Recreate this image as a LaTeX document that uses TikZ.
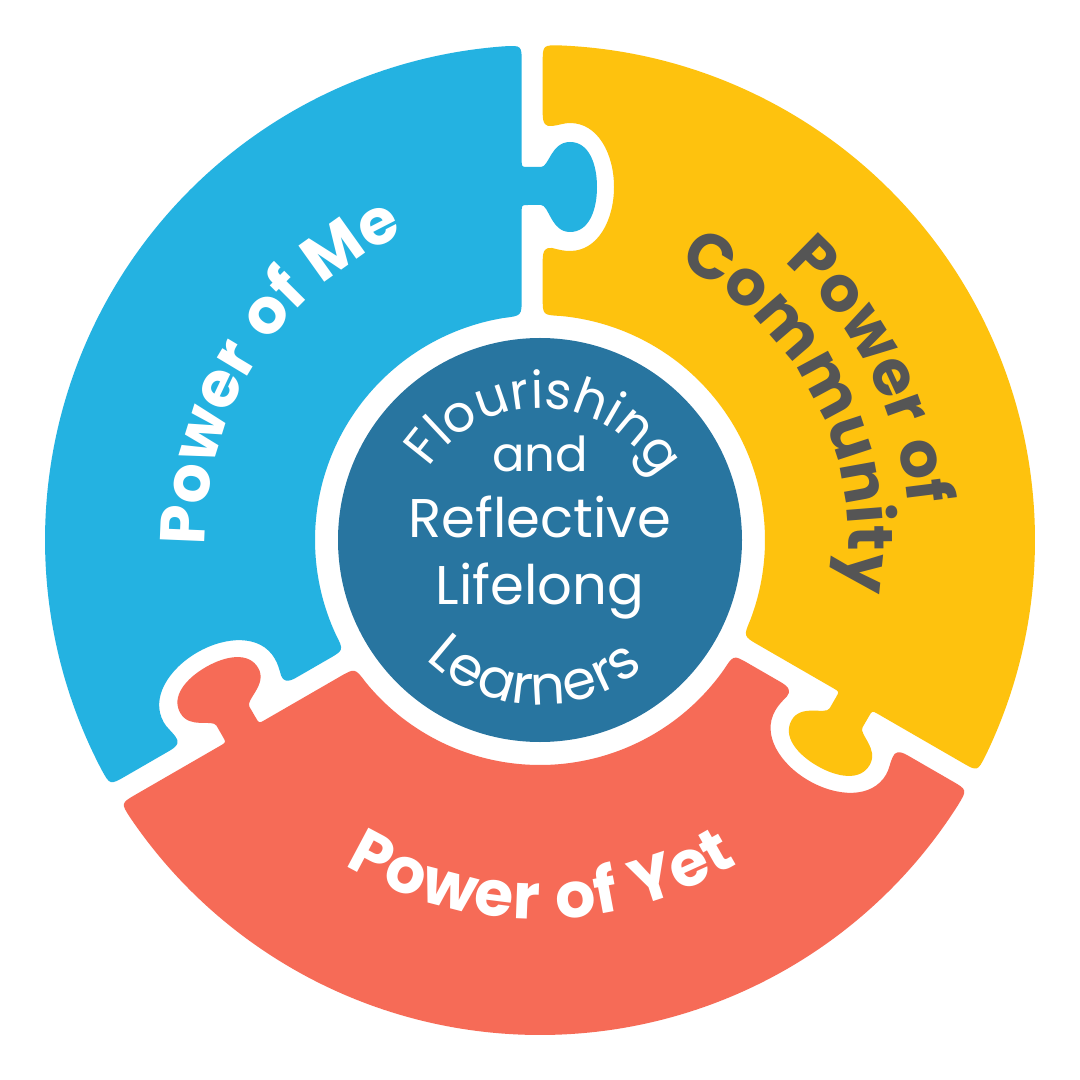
\documentclass[tikz,border=0pt]{standalone}
\usepackage{fontspec}
\setmainfont{Poppins}
\usepackage{tikz}
\usetikzlibrary{decorations.text}
\definecolor{WheelBlue}{HTML}{24B2E1}
\definecolor{WheelGold}{HTML}{FEC20E}
\definecolor{WheelCoral}{HTML}{F66B57}
\definecolor{WheelNavy}{HTML}{2875A0}
\definecolor{WheelInk}{HTML}{555555}
\newcommand\bandfont{\bfseries\fontsize{18}{20}\selectfont}
\newcommand\hubfont{\fontsize{15.5}{17}\selectfont}
\newcommand\gap{{\kern0.25em}}
% one puzzle piece, knob on its clockwise edge, socket on the other
\newcommand\piecepath{
  (94.2:4.95) .. controls (-0.183,4.9466) .. (-0.183,4.77)
  -- (-0.183,3.80) .. controls (-0.183,3.73) .. (-0.12,3.73)
  -- (0.01,3.73) .. controls (0.09,3.73) and (0.11,3.98) .. (0.30,3.98)
  .. controls (0.49,3.98) and (0.57,3.76) .. (0.57,3.53)
  .. controls (0.57,3.30) and (0.49,3.08) .. (0.30,3.08)
  .. controls (0.11,3.08) and (0.09,3.35) .. (0.01,3.35)
  -- (-0.12,3.35) .. controls (-0.183,3.35) .. (-0.183,3.28)
  -- (-0.183,2.42) .. controls (-0.183,2.2425) .. (99.25:2.25)
  arc[start angle=99.25, end angle=204.73, radius=2.25]
  .. controls ([rotate=120]0.027,2.2498) .. ([rotate=120]0.027,2.42)
  -- ([rotate=120]0.027,2.80)
  .. controls ([rotate=120]0.027,2.90) and ([rotate=120]0.06,2.93) .. ([rotate=120]0.12,2.92)
  .. controls ([rotate=120]0.20,2.90) and ([rotate=120]0.24,2.89) .. ([rotate=120]0.30,2.89)
  .. controls ([rotate=120]0.58,2.89) and ([rotate=120]0.74,3.20) .. ([rotate=120]0.74,3.53)
  .. controls ([rotate=120]0.74,3.86) and ([rotate=120]0.58,4.17) .. ([rotate=120]0.30,4.17)
  .. controls ([rotate=120]0.24,4.17) and ([rotate=120]0.20,4.15) .. ([rotate=120]0.12,4.14)
  .. controls ([rotate=120]0.06,4.13) and ([rotate=120]0.027,4.16) .. ([rotate=120]0.027,4.26)
  -- ([rotate=120]0.027,4.77) .. controls ([rotate=120]0.027,4.9499) .. (207.6:4.95)
  arc[start angle=207.6, end angle=94.2, radius=4.95] -- cycle}
\tikzset{
  arctext/.style 2 args={decoration={text along path, text align=center, text color=#1, text={#2}}, decorate},
  arcfit/.style 2 args={decoration={text along path, text align={fit to path}, text color=#1, text={#2}}, decorate},
  hubtext/.style={font=\hubfont, text=white, anchor=base, inner sep=0pt},
  hub/.style={circle, fill=WheelNavy, minimum size=4.04cm, inner sep=0pt}
}

\begin{document}
\begin{tikzpicture}
\useasboundingbox[fill=white] (-5.4,-5.4) rectangle (5.4,5.4);
\foreach \ang/\col in {0/WheelBlue, 120/WheelCoral, 240/WheelGold}
  \fill[\col, rotate=\ang] \piecepath;
\node[hub] (core) at (0,0) {};
% ring labels
\path[arcfit={white}{|\bandfont|Power\gap of\gap Me}] (181:3.35) arc[start angle=181, end angle=115.5, radius=3.35];
\path[arctext={WheelInk}{|\bandfont|Power\gap of}] (72:3.70) arc[start angle=72, end angle=-18, radius=3.70];
\path[arctext={WheelInk}{|\bandfont|Community}] (72:3.08) arc[start angle=72, end angle=-18, radius=3.08];
\path[arcfit={white}{|\bandfont|Power\gap of\gap Yet}] (239:3.79) arc[start angle=239, end angle=301.5, radius=3.79];
% hub labels
\path[arcfit={white}{|\fontsize{14.5}{16}\selectfont|Flourishing}] (147:1.32) arc[start angle=147, end angle=32, radius=1.32];
\node[hubtext, font=\fontsize{13.7}{15}\selectfont] (hubAnd) at (0,0.68) {and};
\node[hubtext] (hubRefl) at (0,0.03) {Reflective};
\node[hubtext] (hubLife) at (0,-0.64) {Lifelong};
\path[arcfit={white}{|\hubfont|Learners}] (226:1.65) arc[start angle=226, end angle=309, radius=1.65];
\end{tikzpicture}
\end{document}
